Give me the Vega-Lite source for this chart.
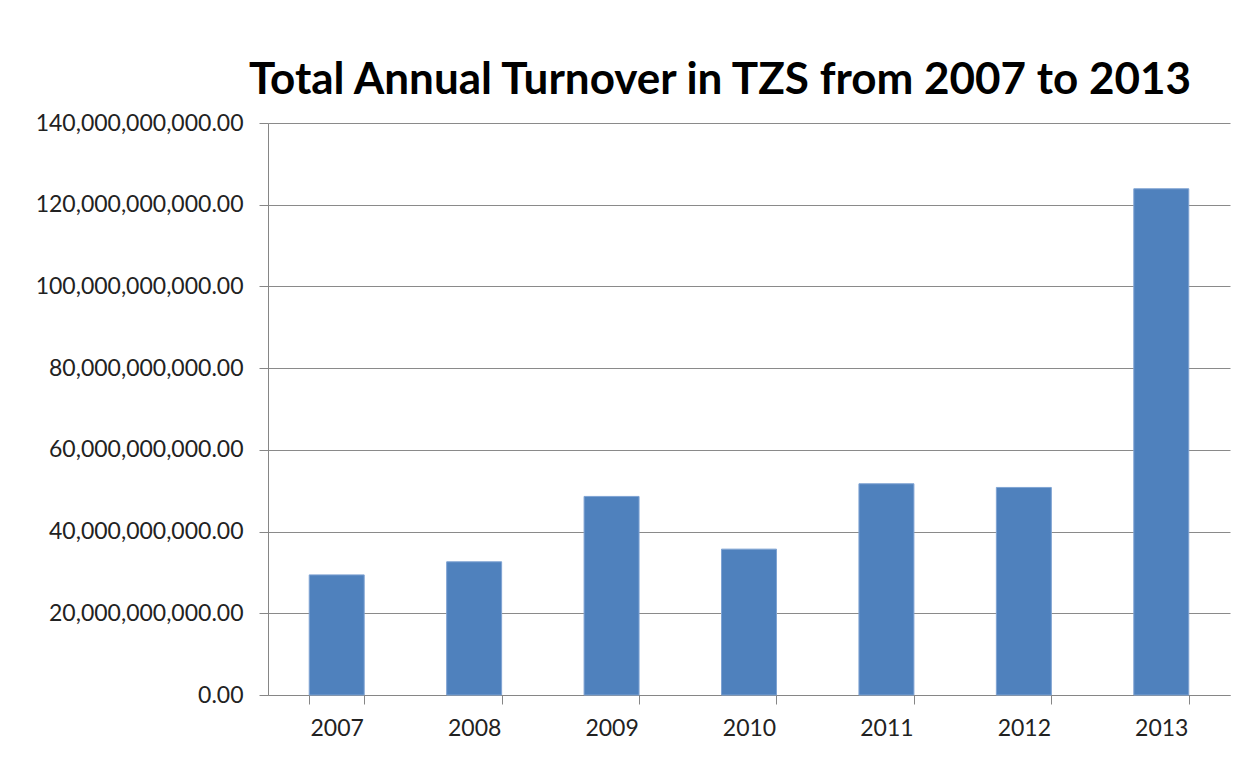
{
  "$schema": "https://vega.github.io/schema/vega-lite/v6.json",
  "autosize": {"type": "none"},
  "width": 962,
  "height": 572,
  "padding": {"left": 268, "top": 123, "right": 27, "bottom": 63},
  "background": "white",
  "title": {
    "text": "Total Annual Turnover in TZS from 2007 to 2013",
    "font": "Lato",
    "fontSize": 44,
    "fontWeight": "bold",
    "color": "#000000",
    "anchor": "middle",
    "dx": -29,
    "offset": 9
  },
  "data": {
    "values": [
      {"year": "2007", "turnover": 29400000000},
      {"year": "2008", "turnover": 32600000000},
      {"year": "2009", "turnover": 48600000000},
      {"year": "2010", "turnover": 35700000000},
      {"year": "2011", "turnover": 51700000000},
      {"year": "2012", "turnover": 50800000000},
      {"year": "2013", "turnover": 123900000000}
    ]
  },
  "mark": {"type": "bar", "color": "#4F81BD", "stroke": "#7FA3D3", "strokeWidth": 1},
  "encoding": {
    "x": {
      "field": "year",
      "type": "ordinal",
      "scale": {"paddingInner": 0.6, "paddingOuter": 0.3},
      "axis": {
        "title": null,
        "labelAngle": 0,
        "labelFont": "Lato",
        "labelFontSize": 23,
        "labelColor": "#222222",
        "labelPadding": 13,
        "domainColor": "#868686",
        "tickColor": "#868686",
        "tickSize": 9,
        "tickBand": "extent",
        "grid": false
      }
    },
    "y": {
      "field": "turnover",
      "type": "quantitative",
      "scale": {"domain": [0, 140000000000], "nice": false},
      "axis": {
        "title": null,
        "values": [0, 20000000000, 40000000000, 60000000000, 80000000000, 100000000000, 120000000000, 140000000000],
        "format": ",.2f",
        "labelFont": "Lato",
        "labelFontSize": 23,
        "labelLimit": 0,
        "labelColor": "#222222",
        "labelPadding": 16,
        "domainColor": "#868686",
        "tickColor": "#868686",
        "tickSize": 9,
        "gridColor": "#8a8a8a",
        "gridWidth": 1
      }
    }
  },
  "config": {
    "view": {"stroke": null}
  }
}
